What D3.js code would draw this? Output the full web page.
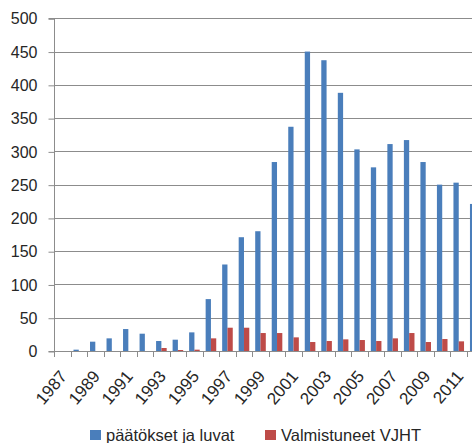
<!DOCTYPE html>
<html><head><meta charset="utf-8">
<script src="https://cdn.jsdelivr.net/npm/d3@7"></script>
<style>body{margin:0;background:#fff}svg{display:block}text{font-family:"Liberation Sans",Arial,sans-serif;fill:#262626}</style>
</head><body><svg id="c" width="472" height="443"></svg>
<script>
const years = [1987,1988,1989,1990,1991,1992,1993,1994,1995,1996,1997,1998,1999,2000,2001,2002,2003,2004,2005,2006,2007,2008,2009,2010,2011,2012];
const paatokset = [0,2,14,19,33,26,15,17,28,78,130,171,180,284,337,450,437,388,303,276,311,317,284,250,253,221];
const valmistuneet = [0,0,0,0,0,0,4.5,1.5,2,19,35,35,27,27,20.5,13.5,15,17.5,16.5,15,19,27,13.5,18,14.5,null];
const seriesNames = ["päätökset ja luvat","Valmistuneet VJHT"];
const colors = ["#4A7EBB","#BE4B48"];
const yTicks = [0,50,100,150,200,250,300,350,400,450,500];
const xLabelYears = years.filter((y,i)=>i%2===0 && y<2012);

(function(){
const svg = d3.select("#c");
const left = 54, bw = 16.52, plotTop = 18.3, plotBottom = 351;
const x = d3.scaleBand().domain(years).range([left, left + bw*years.length]).padding(0);
const x1 = d3.scaleBand().domain([0,1]).range([0, x.bandwidth()]).paddingInner(0).paddingOuter(0.56);
const y = d3.scaleLinear().domain([0,500]).range([plotBottom, plotTop]);

// gridlines
svg.append("g").selectAll("line").data(yTicks.filter(d=>d>0)).join("line")
  .attr("x1", left).attr("x2", 472).attr("y1", d=>Math.round(y(d))+0.5).attr("y2", d=>Math.round(y(d))+0.5)
  .attr("stroke", "#8c8c8c").attr("stroke-width", 1);

// y axis
const yAxis = d3.axisLeft(y).tickValues(yTicks).tickSize(6).tickPadding(11);
const gy = svg.append("g").attr("transform", `translate(${left+0.5},0.5)`).call(yAxis);
gy.select(".domain").attr("stroke", "#8c8c8c").attr("d", `M-6,${Math.round(y(0))}H0V${Math.round(y(500))}H-6`);
gy.selectAll(".tick line").attr("stroke", "#8c8c8c");
gy.selectAll(".tick text").style("font-size","16px").attr("fill","#262626").style("font-family",'"Liberation Sans",Arial,sans-serif');

// bars
const data = years.map((yr,i)=>({yr, vals:[paatokset[i], valmistuneet[i]]}));
const groups = svg.append("g").selectAll("g").data(data).join("g").attr("transform", d=>`translate(${x(d.yr)},0)`);
groups.selectAll("rect").data(d=>d.vals.map((v,k)=>({v,k})).filter(e=>e.v!=null && e.v>0)).join("rect")
  .attr("x", e=>x1(e.k)).attr("width", x1.bandwidth())
  .attr("y", e=>y(e.v)).attr("height", e=>y(0)-y(e.v))
  .attr("fill", e=>colors[e.k]);

// x axis line and ticks
const gx = svg.append("g");
gx.append("line").attr("x1", left).attr("x2", 472).attr("y1", Math.round(y(0))+0.5).attr("y2", Math.round(y(0))+0.5).attr("stroke","#8c8c8c");
gx.selectAll("line.t").data(years).join("line").attr("class","t")
  .attr("x1", d=>Math.round(x(d))+0.5).attr("x2", d=>Math.round(x(d))+0.5)
  .attr("y1", Math.round(y(0))).attr("y2", Math.round(y(0))+6).attr("stroke","#8c8c8c");
gx.selectAll("text").data(xLabelYears).join("text")
  .attr("transform", d=>`translate(${x(d)+x.bandwidth()/2+1},${plotBottom+22}) rotate(-50)`)
  .attr("text-anchor","end").attr("dy","0.35em").style("font-size","17px").text(d=>d);

// legend
const legend = svg.append("g");
const lx = [90, 265];
seriesNames.forEach((n,k)=>{
  legend.append("rect").attr("x", lx[k]).attr("y", 430).attr("width", 11).attr("height", 10).attr("fill", colors[k]);
  legend.append("text").attr("x", lx[k]+16).attr("y", 441).style("font-size","16.5px").text(n);
});
})();
</script></body></html>
